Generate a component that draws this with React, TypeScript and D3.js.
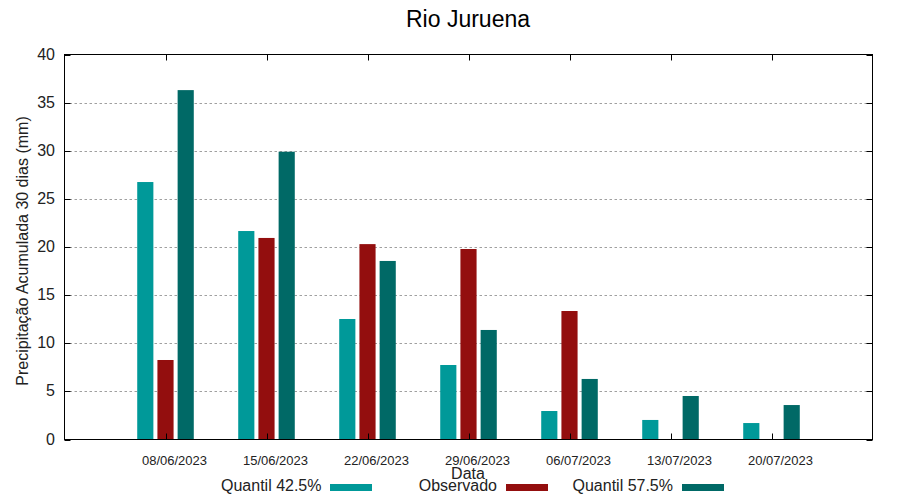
import React from "react";
import * as d3 from "d3";

const dates = ["08/06/2023", "15/06/2023", "22/06/2023", "29/06/2023", "06/07/2023", "13/07/2023", "20/07/2023"];
const quantil425 = [26.75, 21.66, 12.52, 7.74, 2.96, 2.03, 1.71];
const observado: (number | null)[] = [8.26, 20.94, 20.3, 19.79, 13.35, null, null];
const quantil575 = [36.3, 29.9, 18.55, 11.38, 6.29, 4.52, 3.58];
const seriesNames = ["Quantil 42.5%", "Observado", "Quantil 57.5%"];
const seriesColors = ["#009999", "#930e0e", "#006966"];
const yTicks = [0, 5, 10, 15, 20, 25, 30, 35, 40];

const W = 900;
const H = 500;
const left = 64.5;
const right = 872.5;
const top = 54.5;
const bottom = 439.5;
const FONT = "'Liberation Sans', Arial, Helvetica, sans-serif";

export default function App() {
  const x = d3.scaleLinear().domain([-1, dates.length]).range([left, right]);
  const y = d3.scaleLinear().domain([0, 40]).range([bottom, top]);
  const series = [quantil425, observado, quantil575];
  const offsets = [-0.2, 0, 0.2];
  const bw = 0.16;
  const unit = x(1) - x(0);

  const legendTextEnds = [321.5, 497, 673];
  const legendSampleX = [330, 506, 682];

  return (
    <svg
      width={W}
      height={H}
      style={{ position: "absolute", left: 0, top: 0, background: "#fff" }}
      fontFamily={FONT}
    >
      <rect x={0} y={0} width={W} height={H} fill="#fff" />
      {/* grid */}
      {yTicks
        .filter((t) => t > 0 && t < 40)
        .map((t) => (
          <line
            key={"g" + t}
            x1={left}
            x2={right}
            y1={Math.round(y(t)) + 0.5}
            y2={Math.round(y(t)) + 0.5}
            stroke="#a0a0a0"
            strokeWidth={1}
            strokeDasharray="2.5,2.5"
          />
        ))}
      {/* bars */}
      {series.map((vals, si) =>
        vals.map((v, i) =>
          v == null ? null : (
            <rect
              key={`b${si}-${i}`}
              x={x(i + offsets[si]) - (bw * unit) / 2}
              y={y(v)}
              width={bw * unit}
              height={y(0) - y(v)}
              fill={seriesColors[si]}
            />
          )
        )
      )}
      {/* y ticks */}
      {yTicks.map((t) => {
        const yy = Math.round(y(t)) + 0.5;
        return (
          <g key={"yt" + t}>
            <line x1={left} x2={left + 6} y1={yy} y2={yy} stroke="#000" />
            <line x1={right - 6} x2={right} y1={yy} y2={yy} stroke="#000" />
            <text x={55} y={yy + 4.5} textAnchor="end" fontSize={16} fill="#222">
              {t}
            </text>
          </g>
        );
      })}
      {/* x ticks */}
      {dates.map((d, i) => {
        const xx = Math.round(x(i)) + 0.5;
        return (
          <g key={"xt" + i}>
            <line x1={xx} x2={xx} y1={bottom} y2={bottom - 6} stroke="#000" />
            <line x1={xx} x2={xx} y1={top} y2={top + 6} stroke="#000" />
            <text x={x(i) + 9} y={465} textAnchor="middle" fontSize={13} fill="#222">
              {d}
            </text>
          </g>
        );
      })}
      {/* border */}
      <rect x={left} y={top} width={right - left} height={bottom - top} fill="none" stroke="#000" strokeWidth={1} />
      {/* title */}
      <text x={468} y={27} textAnchor="middle" fontSize={23} fill="#000">
        Rio Juruena
      </text>
      {/* y label */}
      <text
        transform={`translate(28, 251) rotate(-90)`}
        textAnchor="middle"
        fontSize={16}
        fill="#222"
      >
        Precipitação Acumulada 30 dias (mm)
      </text>
      {/* x label */}
      <text x={468} y={479} textAnchor="middle" fontSize={16} fill="#222">
        Data
      </text>
      {/* legend */}
      {seriesNames.map((n, si) => (
        <g key={"lg" + si}>
          <text x={legendTextEnds[si]} y={490.5} textAnchor="end" fontSize={16} fill="#222">
            {n}
          </text>
          <rect x={legendSampleX[si]} y={484} width={42} height={7} fill={seriesColors[si]} />
        </g>
      ))}
    </svg>
  );
}
